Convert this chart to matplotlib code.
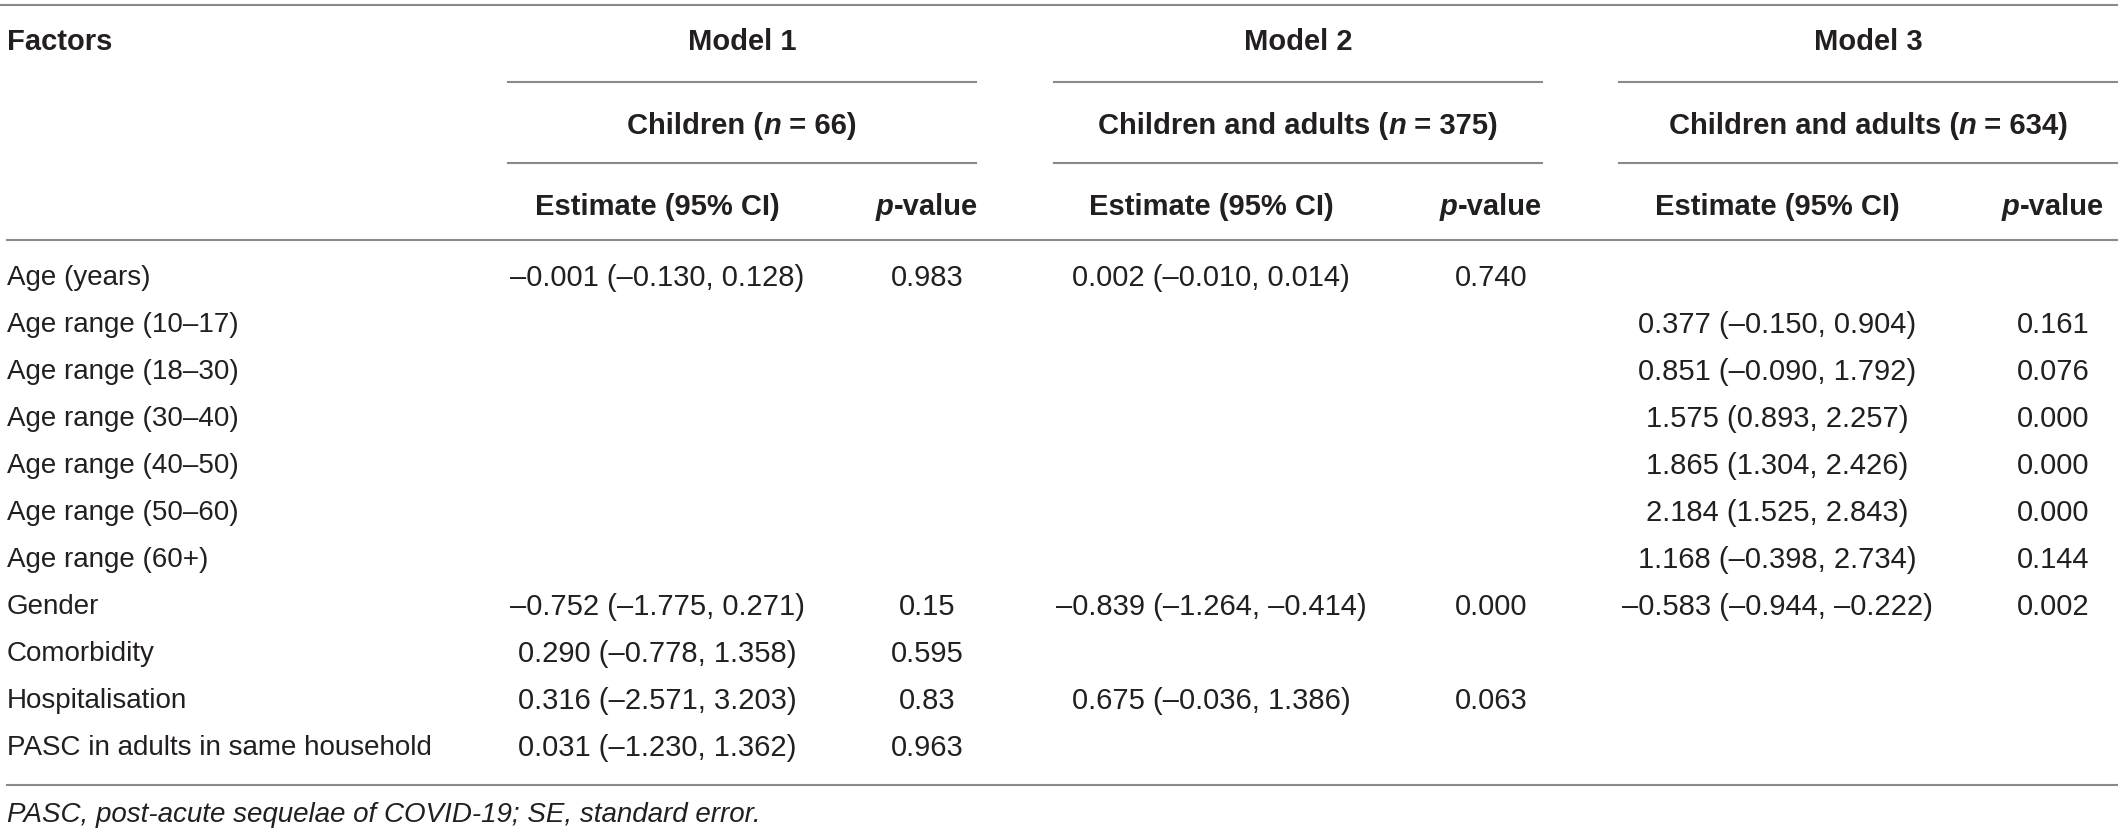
import matplotlib
matplotlib.use("Agg")
import matplotlib.pyplot as plt

# ---- table content ----
factors = [
    "Age (years)", "Age range (10–17)", "Age range (18–30)", "Age range (30–40)",
    "Age range (40–50)", "Age range (50–60)", "Age range (60+)", "Gender",
    "Comorbidity", "Hospitalisation", "PASC in adults in same household",
]
# (estimate, lower, upper) or None where the factor is not in the model
model1_est = [(-0.001, -0.130, 0.128), None, None, None, None, None, None,
              (-0.752, -1.775, 0.271), (0.290, -0.778, 1.358),
              (0.316, -2.571, 3.203), (0.031, -1.230, 1.362)]
model1_p = ["0.983", "", "", "", "", "", "", "0.15", "0.595", "0.83", "0.963"]
model2_est = [(0.002, -0.010, 0.014), None, None, None, None, None, None,
              (-0.839, -1.264, -0.414), None, (0.675, -0.036, 1.386), None]
model2_p = ["0.740", "", "", "", "", "", "", "0.000", "", "0.063", ""]
model3_est = [None, (0.377, -0.150, 0.904), (0.851, -0.090, 1.792),
              (1.575, 0.893, 2.257), (1.865, 1.304, 2.426),
              (2.184, 1.525, 2.843), (1.168, -0.398, 2.734),
              (-0.583, -0.944, -0.222), None, None, None]
model3_p = ["", "0.161", "0.076", "0.000", "0.000", "0.000", "0.144", "0.002",
            "", "", ""]
model_titles = ["Model 1", "Model 2", "Model 3"]
group_labels = ["Children (", "Children and adults (", "Children and adults ("]
group_n = ["66", "375", "634"]
footnote = "PASC, post-acute sequelae of COVID-19; SE, standard error."

W, H = 2118, 833
FONT = "Liberation Sans"
FS = 20        # row labels, footnote
FS_NUM = 21    # numbers
FS_HEAD = 21   # bold header
TXT = "#231f20"
RULE = "#8a8a8a"

fig = plt.figure(figsize=(W / 100, H / 100), dpi=100)
ax = fig.add_axes([0, 0, 1, 1])
ax.set_xlim(0, W)
ax.set_ylim(H, 0)
ax.axis("off")
renderer = fig.canvas.get_renderer()


def fmt(v):
    s = f"{abs(v):.3f}"
    return ("–" + s) if v < 0 else s


def fmt_ci(t):
    if t is None:
        return ""
    e, lo, hi = t
    return f"{fmt(e)} ({fmt(lo)}, {fmt(hi)})"


def rich(x, y, parts, weight="bold"):
    """Draw centred text made of (string, style) pieces."""
    widths = []
    for s, st in parts:
        t = ax.text(0, 0, s, fontsize=FS_HEAD, family=FONT, weight=weight, style=st)
        widths.append(t.get_window_extent(renderer).width)
        t.remove()
    cur = x - sum(widths) / 2
    for (s, st), w in zip(parts, widths):
        ax.text(cur, y, s, fontsize=FS_HEAD, family=FONT, weight=weight,
                style=st, ha="left", va="center", color=TXT)
        cur += w


# column layout
model_spans = [(508, 976), (1054, 1542), (1619, 2118)]
est_x = [657, 1211, 1777]
p_x = [927, 1491, 2053]
y_top, y_model, y_rule1, y_group, y_rule2, y_head, y_rule3 = 5, 42, 82, 126, 163, 207, 240
row0, dy = 278, 47
y_bottom, y_note = 785, 815

# rules
ax.plot([0, W], [y_top, y_top], color=RULE, lw=1.5)
for a, b in model_spans:
    ax.plot([a, b], [y_rule1, y_rule1], color=RULE, lw=1.5)
    ax.plot([a, b], [y_rule2, y_rule2], color=RULE, lw=1.5)
ax.plot([7, W], [y_rule3, y_rule3], color=RULE, lw=1.5)
ax.plot([7, W], [y_bottom, y_bottom], color=RULE, lw=1.5)

# header
ax.text(7, y_model, "Factors", fontsize=FS_HEAD, family=FONT, weight="bold",
        ha="left", va="center", color=TXT)
for i, (a, b) in enumerate(model_spans):
    cx = (a + b) / 2
    ax.text(cx, y_model, model_titles[i], fontsize=FS_HEAD, family=FONT,
            weight="bold", ha="center", va="center", color=TXT)
    rich(cx, y_group, [(group_labels[i], "normal"), ("n", "italic"),
                       (f" = {group_n[i]})", "normal")])
    rich(est_x[i], y_head, [("Estimate (95% CI)", "normal")])
    rich(p_x[i], y_head, [("p", "italic"), ("-value", "normal")])

# body
ests = [model1_est, model2_est, model3_est]
ps = [model1_p, model2_p, model3_p]
for r, name in enumerate(factors):
    y = row0 + r * dy
    ax.text(7, y, name, fontsize=FS, family=FONT, ha="left", va="center",
            color=TXT)
    for m in range(3):
        ax.text(est_x[m], y, fmt_ci(ests[m][r]), fontsize=FS_NUM, family=FONT,
                ha="center", va="center", color=TXT)
        ax.text(p_x[m], y, ps[m][r], fontsize=FS_NUM, family=FONT,
                ha="center", va="center", color=TXT)

ax.text(7, y_note, footnote, fontsize=FS, family=FONT, style="italic",
        ha="left", va="center", color=TXT)

fig.savefig("out.png", dpi=100)
plt.close(fig)
